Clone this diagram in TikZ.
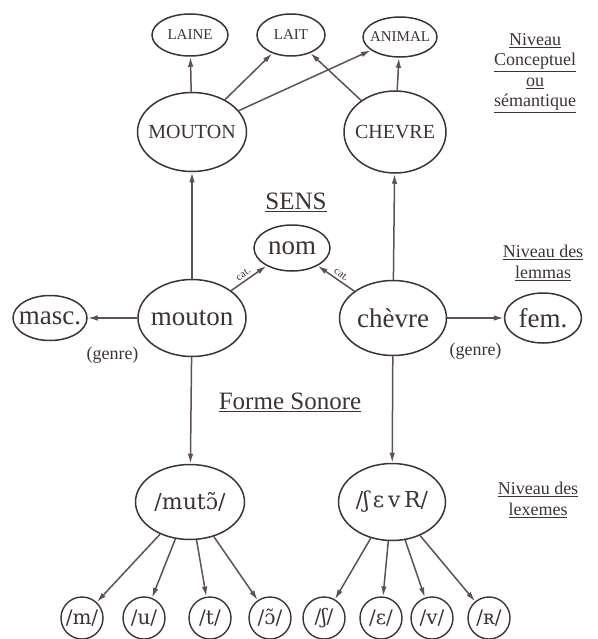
\documentclass[tikz,border=0pt]{standalone}
\usepackage{fontspec}
\setmainfont{Liberation Serif}
\newfontfamily\ipa{DejaVu Serif}
\usetikzlibrary{positioning}
\usetikzlibrary{shapes.geometric}
\usetikzlibrary{arrows.meta}
\definecolor{ink}{HTML}{3D3331}
\definecolor{linec}{HTML}{5E5250}
\newcommand{\tight}[1]{\makebox[0pt]{#1}}
\tikzstyle{oval} = [draw=ink, ellipse, line width=1.5pt, inner sep=0pt, text=ink]
\tikzstyle{small} = [oval, font=\fontsize{15}{15}\selectfont]
\tikzstyle{concept} = [oval, font=\fontsize{20}{20}\selectfont]
\tikzstyle{lemma} = [oval, font=\fontsize{27}{27}\selectfont]
\tikzstyle{lexeme} = [oval, font=\ipa\fontsize{22}{22}\selectfont]
\tikzstyle{phon} = [draw=ink, circle, line width=1.4pt, inner sep=0pt, minimum size=42pt, text=ink, font=\ipa\fontsize{20}{20}\selectfont]
\tikzstyle{link} = [->, draw=linec, line width=1.5pt]
\tikzstyle{level} = [text=ink, align=center, font=\fontsize{18}{20.5}\selectfont]
\tikzstyle{title} = [text=ink, font=\fontsize{25}{25}\selectfont]
\tikzstyle{cat} = [text=ink, font=\fontsize{11}{11}\selectfont, inner sep=0.5pt]
\tikzstyle{genre} = [text=ink, font=\fontsize{18}{18}\selectfont]

\begin{document}
\begin{tikzpicture}[x=1pt,y=-1pt,>={Latex[length=10pt,width=5.5pt]}]
    \useasboundingbox (0,0) rectangle (597,639);
    % niveau conceptuel
    \node [small, minimum width=76pt, minimum height=42pt] (laine) at (190,35) {\tight{LAINE}};
    \node [small, minimum width=68pt, minimum height=42pt] (lait) at (291,35) {\tight{LAIT}};
    \node [small, minimum width=74pt, minimum height=40pt] (animal) at (400,37) {\tight{ANIMAL}};
    \node [concept, minimum width=109pt, minimum height=79pt] (mouton) at (192,132) {\tight{MOUTON}};
    \node [concept, minimum width=102pt, minimum height=82pt] (chevre) at (395,132) {\tight{CHEVRE}};
    \node [level] (conceptlvl) at (535,73) {\underline{Niveau}\\\underline{Conceptuel}\\\underline{ou}\\\underline{sémantique}};

    % niveau des lemmas
    \node [title] (sens) at (296,202) {\underline{SENS}};
    \node [lemma, minimum width=76pt, minimum height=46pt] (nom) at (292,248) {\tight{nom}};
    \node [lemma, minimum width=108pt, minimum height=77pt] (moutonlem) at (192,318) {\tight{mouton}};
    \node [lemma, minimum width=107pt, minimum height=75pt] (chevrelem) at (393,318) {\tight{chèvre}};
    \node [lemma, minimum width=74pt, minimum height=45pt] (masc) at (50,318) {\tight{masc.}};
    \node [lemma, minimum width=77pt, minimum height=50pt] (fem) at (543,318) {\tight{fem.}};
    \node [level] (lemmalvl) at (543,263) {\underline{Niveau des}\\\underline{lemmas}};

    % niveau des lexemes
    \node [title] (sonore) at (290,402) {\underline{Forme Sonore}};
    \node [lexeme, minimum width=109pt, minimum height=75pt] (moutonlex) at (190,502) {\tight{/mutɔ̃/}};
    \node [lexeme, minimum width=107pt, minimum height=77pt] (chevrelex) at (392,502) {\tight{/ʃ\,ɛ\,v\,R/}};
    \node [level] (lexemelvl) at (538,500) {\underline{Niveau des}\\\underline{lexemes}};

    \node [phon] (pm) at (82,618) {\tight{/m/}};
    \node [phon] (pu) at (144,618) {\tight{/u/}};
    \node [phon] (pt) at (210,618) {\tight{/t/}};
    \node [phon] (pon) at (270,618) {\tight{/ɔ̃/}};
    \node [phon] (psh) at (324,618) {\tight{/ʃ/}};
    \node [phon] (peps) at (381,618) {\tight{/ɛ/}};
    \node [phon] (pv) at (432,618) {\tight{/v/}};
    \node [phon] (pr) at (489,618) {\tight{/ʀ/}};

    \draw [link] (mouton) -- (laine);
    \draw [link] (mouton) -- (lait);
    \draw [link] (mouton) -- (animal);
    \draw [link] (chevre) -- (lait);
    \draw [link] (chevre) -- (animal);

    \draw [link] (moutonlem) -- (mouton);
    \draw [link] (chevrelem) -- (chevre);
    \draw [link] (moutonlem) -- node[sloped, above=2pt, pos=0.45, cat] {cat.} (nom);
    \draw [link] (chevrelem) -- node[sloped, above=2pt, pos=0.45, cat] {cat.} (nom);
    \draw [link] (moutonlem) -- node[below=25pt, genre] {(genre)} (masc);
    \draw [link] (chevrelem) -- node[below=21pt, genre] {(genre)} (fem);

    \draw [link] (moutonlem) -- (moutonlex);
    \draw [link] (chevrelem) -- (chevrelex);

    \draw [link] (moutonlex) -- (pm);
    \draw [link] (moutonlex) -- (pu);
    \draw [link] (moutonlex) -- (pt);
    \draw [link] (moutonlex) -- (pon);
    \draw [link] (chevrelex) -- (psh);
    \draw [link] (chevrelex) -- (peps);
    \draw [link] (chevrelex) -- (pv);
    \draw [link] (chevrelex) -- (pr);
\end{tikzpicture}
\end{document}
